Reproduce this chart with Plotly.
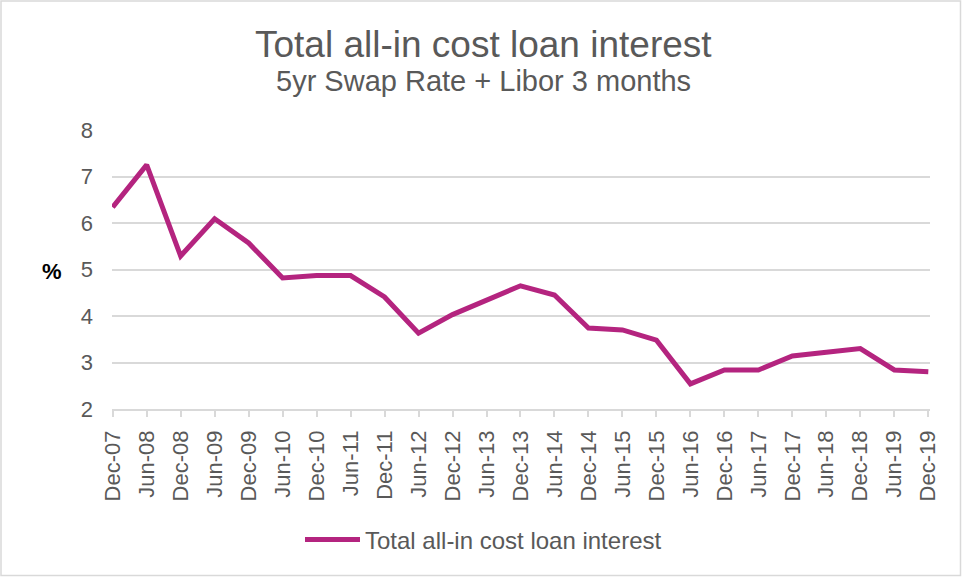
import plotly.graph_objects as go

categories = ["Dec-07", "Jun-08", "Dec-08", "Jun-09", "Dec-09", "Jun-10", "Dec-10", "Jun-11",
              "Dec-11", "Jun-12", "Dec-12", "Jun-13", "Dec-13", "Jun-14", "Dec-14", "Jun-15",
              "Dec-15", "Jun-16", "Dec-16", "Jun-17", "Dec-17", "Jun-18", "Dec-18", "Jun-19", "Dec-19"]
values = [6.34, 7.25, 5.29, 6.09, 5.57, 4.82, 4.87, 4.87,
          4.41, 3.63, 4.03, 4.35, 4.65, 4.45, 3.74, 3.70,
          3.48, 2.54, 2.84, 2.84, 3.14, 3.22, 3.30, 2.84, 2.80]
series_name = "Total all-in cost loan interest"
y_ticks = [2, 3, 4, 5, 6, 7, 8]

W, H = 962, 577
L, R, T, B = 112, 32, 130, 168
pw, ph = W - L - R, H - T - B

FONT = "Liberation Sans, Arial, sans-serif"
GREY = "#595959"
LINE = "#B4247F"

fig = go.Figure()
fig.add_trace(go.Scatter(x=categories, y=values, mode="lines", name=series_name,
                         line=dict(color=LINE, width=5)))

fig.update_layout(
    width=W, height=H,
    margin=dict(l=L, r=R, t=T, b=B),
    paper_bgcolor="white", plot_bgcolor="white",
    font=dict(family=FONT, color=GREY, size=20),
    showlegend=True,
    legend=dict(orientation="h", x=(300 - L) / pw, xanchor="left", y=(409 - 540) / ph, yanchor="middle",
                font=dict(size=24, color=GREY), itemwidth=55, bgcolor="rgba(0,0,0,0)"),
    xaxis=dict(type="category", range=[-0.02, 24.05], showgrid=False,
               showline=True, linecolor="#D9D9D9", linewidth=1.5,
               ticks="outside", ticklen=6, tickcolor="#D9D9D9", tickwidth=1.5,
               tickangle=-90, ticklabelstandoff=5, tickfont=dict(size=22, color=GREY)),
    yaxis=dict(range=[2, 8], tickvals=y_ticks, showgrid=True, gridcolor="#D9D9D9", gridwidth=1.5,
               zeroline=False, showline=False, ticks="", ticklabelstandoff=18,
               tickfont=dict(size=22, color=GREY)),
    shapes=[dict(type="rect", xref="paper", yref="paper",
                 x0=(1 - L) / pw, x1=(W - 1.5 - L) / pw,
                 y0=(409 - (H - 1.5)) / ph, y1=(409 - 1) / ph,
                 line=dict(color="#D9D9D9", width=1.5), layer="below")],
    annotations=[
        dict(text="Total all-in cost loan interest", xref="paper", yref="paper",
             x=(483 - L) / pw, y=(409 - 44) / ph, xanchor="center", yanchor="middle",
             showarrow=False, font=dict(size=37, color=GREY)),
        dict(text="5yr Swap Rate + Libor 3 months", xref="paper", yref="paper",
             x=(483 - L) / pw, y=(409 - 81) / ph, xanchor="center", yanchor="middle",
             showarrow=False, font=dict(size=29, color=GREY)),
        dict(text="<b>%</b>", xref="paper", yref="paper",
             x=(52 - L) / pw, y=(409 - 271) / ph, xanchor="center", yanchor="middle",
             showarrow=False, font=dict(size=22, color="black")),
    ],
)

fig.write_html("out.html")
